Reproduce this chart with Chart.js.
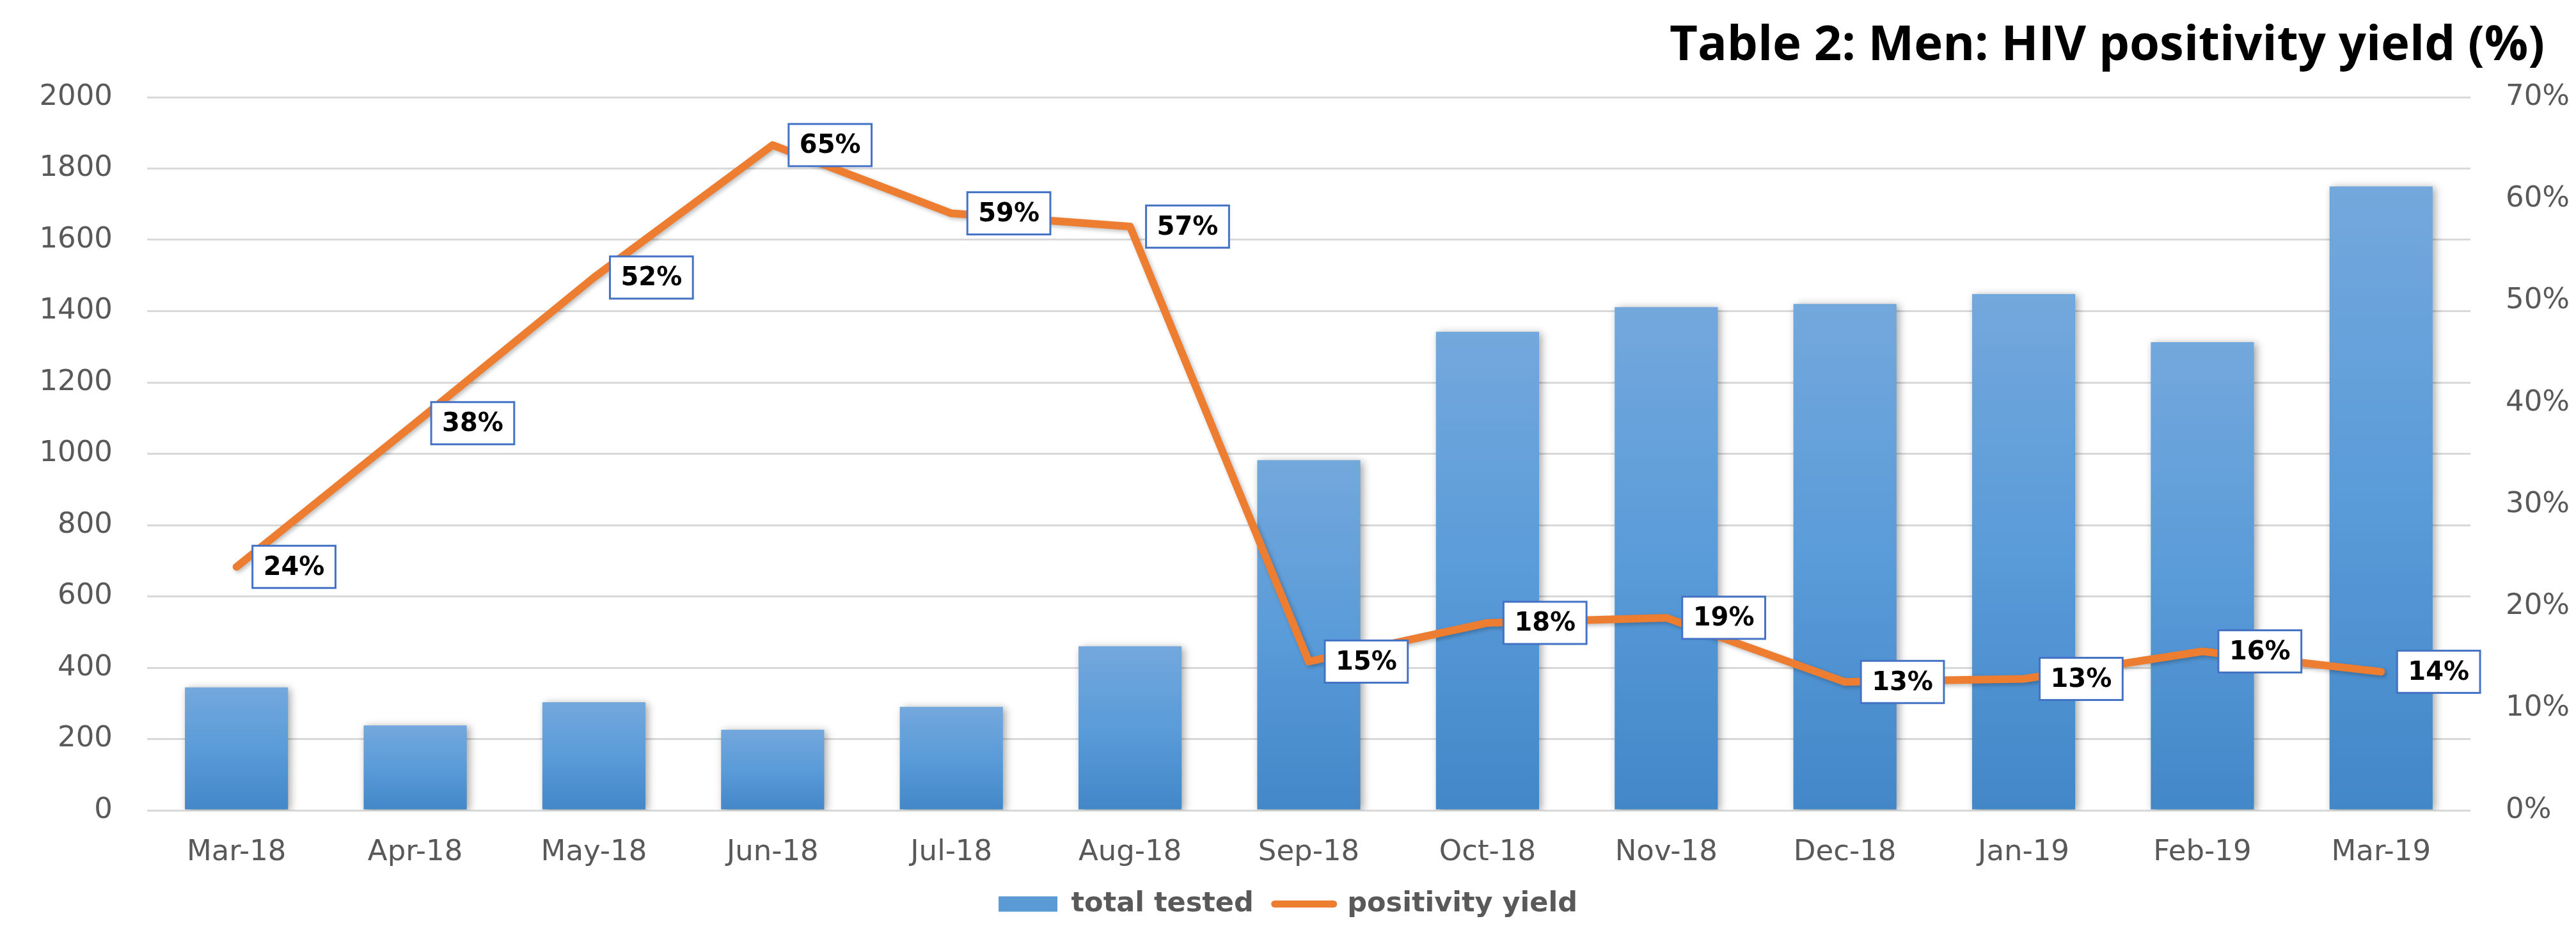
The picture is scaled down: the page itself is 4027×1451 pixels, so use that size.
<!DOCTYPE html>
<html>
<head>
<meta charset="utf-8">
<script src="https://cdn.jsdelivr.net/npm/chart.js@4.4.1/dist/chart.umd.min.js"></script>
<style>
  html, body { margin: 0; padding: 0; background: #ffffff; }
  #wrap { width: 4027px; height: 1451px; position: relative; }
</style>
</head>
<body>
<div id="wrap"><canvas id="chart" width="4027" height="1451"></canvas></div>
<script>
// ---- data ----
const titleText = "Table 2: Men: HIV positivity yield (%)";
const categories = ["Mar-18", "Apr-18", "May-18", "Jun-18", "Jul-18", "Aug-18", "Sep-18", "Oct-18", "Nov-18", "Dec-18", "Jan-19", "Feb-19", "Mar-19"];
const totalTested = [345, 238, 303, 226, 290, 460, 982, 1342, 1411, 1420, 1448, 1313, 1750];
const positivityYield = [0.239, 0.38, 0.523, 0.653, 0.586, 0.573, 0.146, 0.184, 0.189, 0.126, 0.129, 0.156, 0.136];
const seriesNames = ["total tested", "positivity yield"];
const leftTicks = [0, 200, 400, 600, 800, 1000, 1200, 1400, 1600, 1800, 2000];
const rightTicks = [0, 0.1, 0.2, 0.3, 0.4, 0.5, 0.6, 0.7];

const pct = v => Math.round(v * 100) + "%";

function barGradient(c) {
  const chart = c.chart;
  const area = chart.chartArea;
  if (!area || c.type !== "data" || !chart.scales.y) return "#5B9BD5";
  const top = chart.scales.y.getPixelForValue(c.raw);
  const bottom = chart.scales.y.getPixelForValue(0);
  const g = chart.ctx.createLinearGradient(0, top, 0, bottom);
  g.addColorStop(0, "#73A8DC");
  g.addColorStop(0.5, "#5A9BD9");
  g.addColorStop(1, "#4287C8");
  return g;
}

const shadowPlugin = {
  id: "shadows",
  beforeDatasetDraw(chart, args) {
    const ctx = chart.ctx;
    ctx.save();
    if (args.index === 0) {
      ctx.shadowColor = "rgba(0,0,0,0.35)";
      ctx.shadowBlur = 12;
      ctx.shadowOffsetX = 4;
      ctx.shadowOffsetY = 2;
    } else {
      ctx.shadowColor = "rgba(0,0,0,0.25)";
      ctx.shadowBlur = 6;
      ctx.shadowOffsetX = 3;
      ctx.shadowOffsetY = 3;
    }
  },
  afterDatasetDraw(chart) {
    chart.ctx.restore();
  }
};

const labelPlugin = {
  id: "pctLabels",
  afterDatasetsDraw(chart) {
    const ctx = chart.ctx;
    const meta = chart.getDatasetMeta(1);
    const data = chart.data.datasets[1].data;
    ctx.save();
    ctx.font = "bold 40px 'DejaVu Sans'";
    meta.data.forEach((el, i) => {
      const text = pct(data[i]);
      const w = ctx.measureText(text).width + 34;
      const h = 66;
      const left = el.x + 25;
      const top = el.y - h / 2;
      ctx.fillStyle = "#ffffff";
      ctx.fillRect(left, top, w, h);
      ctx.lineWidth = 3;
      ctx.strokeStyle = "#4472C4";
      ctx.strokeRect(left, top, w, h);
      ctx.fillStyle = "#000000";
      ctx.textAlign = "center";
      ctx.textBaseline = "middle";
      ctx.fillText(text, left + w / 2, el.y + 2);
    });
    ctx.restore();
  }
};

const titlePlugin = {
  id: "rightTitle",
  afterDraw(chart) {
    const ctx = chart.ctx;
    ctx.save();
    ctx.font = "bold 76px 'Open Sans'";
    ctx.fillStyle = "#000000";
    ctx.textAlign = "right";
    ctx.textBaseline = "alphabetic";
    ctx.fillText(titleText, 3978, 94);
    ctx.restore();
  }
};

new Chart(document.getElementById("chart"), {
  data: {
    labels: categories,
    datasets: [
      {
        type: "bar",
        label: seriesNames[0],
        data: totalTested,
        yAxisID: "y",
        backgroundColor: barGradient,
        borderWidth: 0,
        barPercentage: 0.577,
        categoryPercentage: 1.0,
        order: 1
      },
      {
        type: "line",
        label: seriesNames[1],
        data: positivityYield,
        yAxisID: "y1",
        borderColor: "#ED7D31",
        backgroundColor: "#ED7D31",
        borderWidth: 12,
        pointRadius: 0,
        tension: 0,
        borderCapStyle: "round",
        borderJoinStyle: "round",
        order: 0
      }
    ]
  },
  options: {
    responsive: false,
    devicePixelRatio: 1,
    animation: false,
    layout: { padding: { top: 152, left: 0, right: 0, bottom: 6 } },
    plugins: {
      title: { display: false },
      tooltip: { enabled: false },
      legend: {
        position: "bottom",
        labels: {
          usePointStyle: true,
          pointStyleWidth: 92,
          boxHeight: 24,
          padding: 33,
          color: "#595959",
          font: { family: "'DejaVu Sans'", size: 43, weight: "bold" },
          generateLabels: () => [
            { text: seriesNames[0], fillStyle: "#5B9BD5", strokeStyle: "#5B9BD5", lineWidth: 0, pointStyle: "rect", datasetIndex: 0, hidden: false, fontColor: "#595959" },
            { text: seriesNames[1], fillStyle: "#ED7D31", strokeStyle: "#ED7D31", lineWidth: 11, lineCap: "round", pointStyle: "line", datasetIndex: 1, hidden: false, fontColor: "#595959" }
          ]
        }
      }
    },
    scales: {
      x: {
        type: "category",
        offset: true,
        grid: { display: false, drawTicks: false },
        border: { display: false },
        ticks: {
          color: "#595959",
          padding: 39,
          maxRotation: 0,
          autoSkip: false,
          font: { family: "'DejaVu Sans'", size: 45 }
        },
        afterFit: s => { s.height = 92; }
      },
      y: {
        position: "left",
        min: 0,
        max: 2000,
        afterBuildTicks: s => { s.ticks = leftTicks.map(v => ({ value: v })); },
        grid: { color: "#D9D9D9", lineWidth: 3, drawTicks: false },
        border: { display: false },
        ticks: {
          color: "#595959",
          padding: 54,
          font: { family: "'DejaVu Sans'", size: 45 },
          callback: v => String(v)
        },
        afterFit: s => { s.width = 230; }
      },
      y1: {
        position: "right",
        min: 0,
        max: 0.7,
        afterBuildTicks: s => { s.ticks = rightTicks.map(v => ({ value: v })); },
        grid: { display: false, drawOnChartArea: false, drawTicks: false },
        border: { display: false },
        ticks: {
          color: "#595959",
          padding: 55,
          font: { family: "'DejaVu Sans'", size: 45 },
          callback: v => pct(v)
        },
        afterFit: s => { s.width = 165; }
      }
    }
  },
  plugins: [shadowPlugin, labelPlugin, titlePlugin]
});
</script>
</body>
</html>
